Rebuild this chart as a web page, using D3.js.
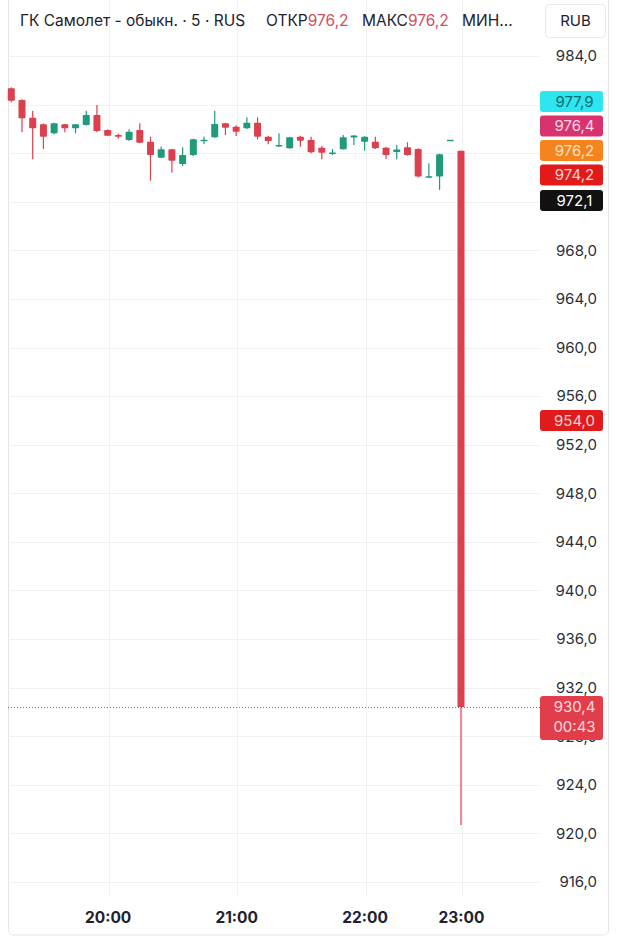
<!DOCTYPE html>
<html>
<head>
<meta charset="utf-8">
<script src="https://cdn.jsdelivr.net/npm/d3@7"></script>
<style>
  body { margin: 0; background: #fff; }
  svg { display: block; font-family: Inter, "Noto Sans", sans-serif; }
</style>
</head>
<body>
<svg id="chart" width="620" height="946"></svg>
<script>
// Свечи 5 мин, ГК Самолет
const times = ["19:15","19:20","19:25","19:30","19:35","19:40","19:45","19:50","19:55",
  "20:00","20:05","20:10","20:15","20:20","20:25","20:30","20:35","20:40","20:45","20:50","20:55",
  "21:00","21:05","21:10","21:15","21:20","21:25","21:30","21:35","21:40","21:45","21:50","21:55",
  "22:00","22:05","22:10","22:15","22:20","22:25","22:30","22:35","22:40","23:00"];
const opens  = [981.34,980.38,978.92,978.38,977.64,978.38,978.05,978.32,979.14,
  977.91,977.50,977.09,977.91,976.95,975.63,976.32,975.11,975.85,977.00,977.31,978.46,
  978.18,978.05,978.51,977.36,976.65,976.40,977.36,977.09,976.45,976.00,976.32,977.30,
  976.95,976.95,976.45,976.10,976.49,976.35,974.05,974.07,977.10,976.20];
const highs  = [981.42,980.44,979.50,978.43,978.51,978.40,978.40,979.50,979.97,
  977.95,977.60,977.97,978.46,977.36,976.54,976.37,976.49,977.19,977.36,979.50,978.50,
  978.30,978.95,978.95,977.44,977.64,977.35,977.44,977.36,976.59,976.35,977.50,977.48,
  977.40,977.36,976.50,976.67,976.90,976.40,975.17,975.95,977.10,976.20];
const lows   = [980.20,977.72,975.50,976.35,977.56,977.72,977.64,978.28,977.72,
  977.40,977.20,977.00,976.81,973.74,975.58,974.40,974.95,975.77,976.76,977.25,977.50,
  977.42,978.00,977.14,976.73,976.53,976.37,976.53,976.00,975.50,975.85,976.30,976.67,
  976.20,976.35,975.52,975.50,975.80,974.00,973.94,972.97,977.10,920.70];
const closes = [980.32,978.87,978.05,977.36,978.46,978.05,978.38,979.14,977.83,
  977.44,977.35,977.77,976.86,975.85,976.32,975.38,975.85,977.14,977.10,978.40,978.10,
  977.77,978.51,977.36,977.00,976.67,977.31,977.03,976.07,976.04,976.05,977.31,977.45,
  977.36,976.40,975.85,976.30,975.85,974.07,974.10,975.91,977.10,930.40];

const timeTicks = ["20:00","21:00","22:00","23:00"];
const priceTicks = [916,920,924,928,932,936,940,944,948,952,956,960,964,968,972,976,980,984];

// метки справа
const markerPrices = [977.9, 976.4, 976.2, 974.2, 972.1];
const markerFill = ["#2de6ef", "#d8336f", "#f5841f", "#e31a1a", "#111111"];
const markerText = ["#0c6a70", "#ffd9e6", "#ffe3c8", "#ffd6d6", "#ffffff"];
const levelPrice = 954.0;
const lastPrice = 930.4;
const countdown = "00:43";

const upColor = "#1f9a7b", downColor = "#dc3f4d";
const fmt = v => d3.format(".1f")(v).replace(".", ",");

const svg = d3.select("#chart");

const x = d3.scaleLinear().domain([0, times.length - 1]).range([11.3, 461]);
const y = d3.scaleLinear().domain([916, 984]).range([882, 56]);

const plotLeft = 8, plotRight = 540;
const boxX = 540, boxW = 63, boxH = 21, gap = 24.5;

// метки на шкале (сдвигаются вверх при наложении)
let prevY = Infinity;
const stacked = markerPrices
  .map((p, k) => ({ p, k }))
  .sort((a, b) => a.p - b.p)
  .map(d => { const yy = Math.min(y(d.p), prevY - gap); prevY = yy; return { ...d, yy }; });
const boxCenters = stacked.map(d => d.yy).concat([y(levelPrice)]);

// рамка карточки
svg.append("rect")
  .attr("x", 8.5).attr("y", -10).attr("width", 600).attr("height", 945)
  .attr("rx", 5)
  .attr("fill", "#fff").attr("stroke", "#e3e5ea");

// сетка
const tickIdx = timeTicks.map(t => times.indexOf(t));
svg.append("g")
  .selectAll("line")
  .data(tickIdx)
  .join("line")
  .attr("x1", d => Math.round(x(d)) + 1.5).attr("x2", d => Math.round(x(d)) + 1.5)
  .attr("y1", 0).attr("y2", 897)
  .attr("stroke", "#eff1f4");

svg.append("g")
  .selectAll("line")
  .data(priceTicks)
  .join("line")
  .attr("x1", plotLeft).attr("x2", plotRight)
  .attr("y1", d => Math.round(y(d)) + 0.5).attr("y2", d => Math.round(y(d)) + 0.5)
  .attr("stroke", "#eff1f4");

// ось цен: подписи под цветными метками скрываются
const visibleTicks = priceTicks.filter(p => boxCenters.every(c => Math.abs(y(p) - c) > boxH - 4));
const yAxis = svg.append("g")
  .attr("transform", `translate(597,0)`)
  .call(d3.axisRight(y).tickValues(visibleTicks).tickFormat(fmt).tickSize(0).tickPadding(0));
yAxis.select(".domain").remove();
yAxis.selectAll("text")
  .attr("text-anchor", "end")
  .attr("font-size", 15)
  .attr("font-family", "Inter, 'Noto Sans', sans-serif")
  .attr("fill", "#2a2e39");

// ось времени
const xAxis = svg.append("g")
  .attr("transform", `translate(0,910)`)
  .call(d3.axisBottom(x).tickValues(tickIdx).tickFormat(i => times[i]).tickSize(0).tickPadding(2));
xAxis.select(".domain").remove();
xAxis.selectAll("text")
  .attr("font-size", 15.5)
  .attr("font-weight", 700)
  .attr("font-family", "Inter, 'Noto Sans', sans-serif")
  .attr("fill", "#1e222d");

// линия последней цены
svg.append("line")
  .attr("x1", plotLeft).attr("x2", plotRight)
  .attr("y1", Math.round(y(lastPrice)) + 0.5).attr("y2", Math.round(y(lastPrice)) + 0.5)
  .attr("stroke", "#e5404e").attr("stroke-dasharray", "1,2");

// свечи
const candles = times.map((t, i) => ({
  i, t, o: opens[i], h: highs[i], l: lows[i], c: closes[i]
}));
const colorOf = d => d.c >= d.o ? upColor : downColor;
const bodyW = 7;

const cg = svg.append("g");
cg.selectAll("line")
  .data(candles)
  .join("line")
  .attr("x1", d => x(d.i)).attr("x2", d => x(d.i))
  .attr("y1", d => y(d.h)).attr("y2", d => y(d.l))
  .attr("stroke", colorOf).attr("stroke-width", 1.2);
cg.selectAll("rect")
  .data(candles)
  .join("rect")
  .attr("x", d => x(d.i) - bodyW / 2)
  .attr("width", bodyW)
  .attr("y", d => y(Math.max(d.o, d.c)))
  .attr("height", d => Math.max(1.5, Math.abs(y(d.o) - y(d.c))))
  .attr("fill", colorOf)
  .attr("rx", 0.8);

const mg = svg.append("g");
const mk = mg.selectAll("g")
  .data(stacked)
  .join("g")
  .attr("transform", d => `translate(${boxX},${d.yy})`);
mk.append("rect")
  .attr("y", -boxH / 2).attr("width", boxW).attr("height", boxH).attr("rx", 3)
  .attr("fill", d => markerFill[d.k]);
mk.append("text")
  .attr("x", boxW / 2 + 3).attr("dy", "0.36em")
  .attr("text-anchor", "middle")
  .attr("font-size", 15)
  .attr("fill", d => markerText[d.k])
  .text(d => fmt(d.p));

// уровень 954
const lv = svg.append("g").attr("transform", `translate(${boxX},${y(levelPrice)})`);
lv.append("rect")
  .attr("y", -boxH / 2).attr("width", boxW).attr("height", boxH).attr("rx", 3)
  .attr("fill", "#e01b1b");
lv.append("text")
  .attr("x", boxW / 2 + 3).attr("dy", "0.36em").attr("text-anchor", "middle")
  .attr("font-size", 15).attr("fill", "#ffd6d6")
  .text(fmt(levelPrice));

// последняя цена + таймер
const lp = svg.append("g").attr("transform", `translate(${boxX},${y(lastPrice)})`);
lp.append("rect")
  .attr("y", -11).attr("width", boxW).attr("height", 44).attr("rx", 3)
  .attr("fill", "#e23d4b");
lp.append("text")
  .attr("x", boxW / 2 + 3).attr("dy", "0.36em").attr("text-anchor", "middle")
  .attr("font-size", 15).attr("fill", "#ffdbe0")
  .text(fmt(lastPrice));
lp.append("text")
  .attr("x", boxW / 2 + 3).attr("y", 20).attr("dy", "0.36em").attr("text-anchor", "middle")
  .attr("font-size", 15).attr("fill", "#ffdbe0")
  .text(countdown);

// заголовок
const head = svg.append("text")
  .attr("x", 20).attr("y", 26)
  .attr("font-size", 15.5)
  .attr("fill", "#1e222d");
head.append("tspan").text("ГК Самолет - обыкн. · 5 · RUS");
head.append("tspan").attr("x", 266).text("ОТКР");
head.append("tspan").attr("fill", "#d0505c").text(fmt(opens[opens.length - 1]));
head.append("tspan").attr("x", 362).text("МАКС");
head.append("tspan").attr("fill", "#d0505c").text(fmt(highs[highs.length - 1]));
head.append("tspan").attr("x", 462).text("МИН...");

// кнопка валюты
svg.append("rect")
  .attr("x", 545.5).attr("y", 4.5).attr("width", 60).attr("height", 33).attr("rx", 4)
  .attr("fill", "#fff").attr("stroke", "#e6e8ec");
svg.append("text")
  .attr("x", 575.5).attr("y", 21).attr("dy", "0.36em")
  .attr("text-anchor", "middle").attr("font-size", 15).attr("fill", "#1e222d")
  .text("RUB");
</script>
</body>
</html>
